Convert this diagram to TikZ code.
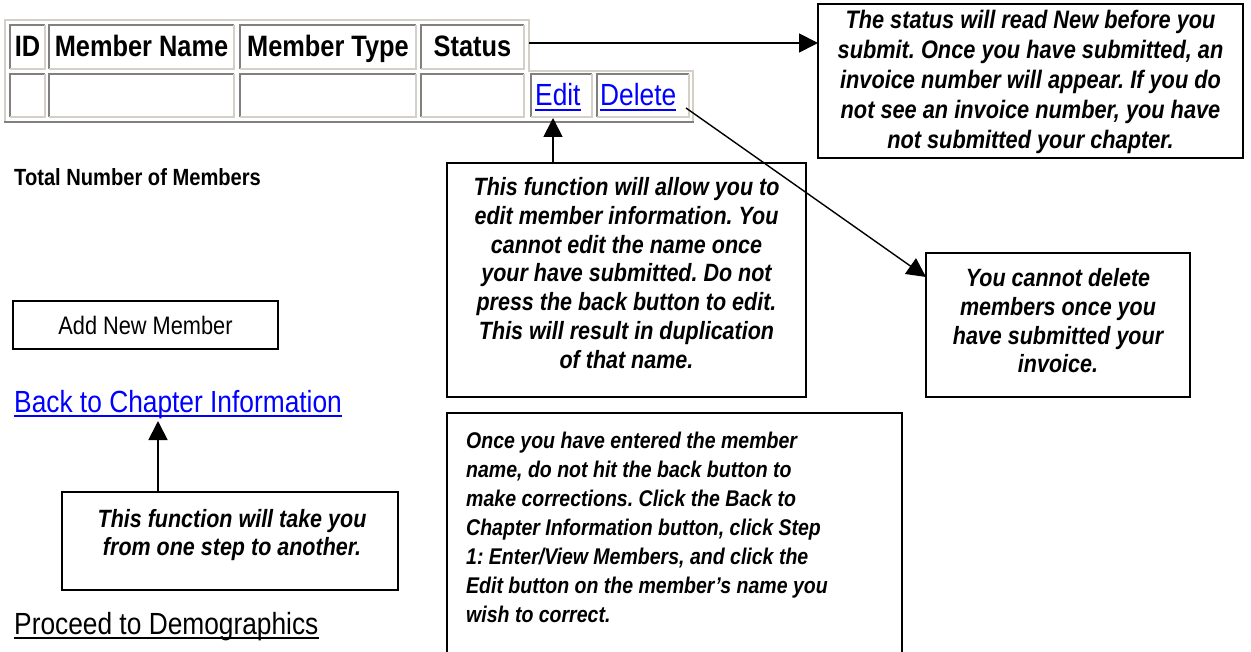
\documentclass[tikz,border=0pt]{standalone}
\usepackage{fontspec}
\setmainfont{Liberation Sans}[FakeStretch=0.86]
\usetikzlibrary{arrows.meta,fit}
\definecolor{linkblue}{HTML}{0000FF}
\definecolor{bevellight}{HTML}{D4D0C8}
\definecolor{beveldark}{HTML}{808080}
\newcommand\notefont{\bfseries\itshape\fontsize{25}{28.7}\selectfont}
\frenchspacing
\begin{document}
\begin{tikzpicture}[x=1pt,y=-1pt,
  cell/.style={inner sep=0pt, outer sep=0pt},
  note/.style={draw, line width=2pt, inner sep=0pt, outer sep=0pt},
  notetext/.style={font=\notefont, align=center, inner sep=0pt},
  pointer/.style={line width=1.8pt, -{Triangle[length=19pt,width=19pt]}},
  head/.style={font=\bfseries\fontsize{29.5}{33}\selectfont, inner sep=0pt, anchor=base},
  link/.style={font=\fontsize{30.6}{34}\selectfont, text=linkblue, inner sep=0pt, anchor=base west},
  uline/.style={line width=2pt},
]
\useasboundingbox (0,0) rectangle (1251,652);
\fill[white] (0,0) rectangle (1251,652);

% outer frame of the member table
\draw[bevellight, line width=2pt] (5,122) -- (5,20) -- (529,20) -- (529,71) -- (693,71) -- (693,122);
\draw[beveldark, line width=2pt] (4,122) -- (694,122);

% table cells with inset bevels
\foreach \n/\xa/\ya/\xb/\yb in {hid/10/25/45/69, hname/49/25/234/69, htype/240/25/416/69, hstat/421/25/524/69,
  rid/10/74/45/117, rname/49/74/234/117, rtype/240/74/416/117, rstat/421/74/524/117,
  redit/531/74/592/117, rdel/597/74/689/117}{
  \node[cell, fit={(\xa,\ya) (\xb,\yb)}] (\n) {};
  \draw[beveldark, line width=2pt] (\n.south west) -- (\n.north west) -- (\n.north east);
  \draw[bevellight, line width=2pt] (\n.north east) -- (\n.south east) -- (\n.south west);
}

% column headings
\node[head] (tid)   at (hid.center |- 0,57)   {ID};
\node[head] (tname) at (hname.center |- 0,57) {Member Name};
\node[head] (ttype) at (htype.center |- 0,57) {Member Type};
\node[head] (tstat) at (hstat.center |- 0,57) {Status};

% row links
\node[link] (editlnk) at (535,106) {Edit};
\node[link] (dellnk) at (600,106) {Delete};
\draw[linkblue, uline] ([yshift=-4pt]editlnk.base west) -- ([yshift=-4pt]editlnk.base east);
\draw[linkblue, uline] ([yshift=-4pt]dellnk.base west) -- ([yshift=-4pt]dellnk.base east);

% left column of the page
\node[font=\bfseries\fontsize{23.4}{27}\selectfont, anchor=base west, inner sep=0pt] (total) at (14,186) {Total Number of Members};
\node[note, minimum width=265pt, minimum height=48pt, font=\fontsize{25.3}{29}\selectfont] (addbtn) at (145.5,325) {Add New Member};
\node[link] (backlnk) at (14,412) {Back to Chapter Information};
\draw[linkblue, uline] ([yshift=-4pt]backlnk.base west) -- ([yshift=-4pt]backlnk.base east);
\node[link, text=black] (proceed) at (14,634) {Proceed to Demographics};
\draw[black, uline] ([yshift=-4pt]proceed.base west) -- ([yshift=-4pt]proceed.base east);

% callout boxes
\node[note, minimum width=425pt, minimum height=154pt] (statusbox) at (1030.5,81) {};
\node[notetext, font=\bfseries\itshape\fontsize{25.3}{30}\selectfont] (statustxt) at (1030.5,82)
  {The status will read New before you\\submit. Once you have submitted, an\\invoice number will appear. If you do\\not see an invoice number, you have\\not submitted your chapter.};

\node[note, minimum width=359pt, minimum height=234pt] (editbox) at (626.5,280) {};
\node[notetext] (edittxt) at (626.5,273)
  {This function will allow you to\\edit member information. You\\cannot edit the name once\\your have submitted. Do not\\press the back button to edit.\\This will result in duplication\\of that name.};

\node[note, minimum width=264pt, minimum height=144pt] (delbox) at (1058,325) {};
\node[notetext] (deltxt) at (1058,321)
  {You cannot delete\\members once you\\have submitted your\\invoice.};

\node[note, minimum width=336pt, minimum height=98pt] (backbox) at (230,541) {};
\node[notetext] (backtxt) at (232,535)
  {This function will take you\\from one step to another.};

\node[note, anchor=north west, minimum width=455pt, minimum height=300pt] (oncebox) at (447,413) {};
\node[notetext, align=left, font=\bfseries\itshape\fontsize{22.7}{29}\selectfont, anchor=west] (oncetxt) at (466,527)
  {Once you have entered the member\\name, do not hit the back button to\\make corrections. Click the Back to\\Chapter Information button, click Step\\1: Enter/View Members, and click the\\Edit button on the member’s name you\\wish to correct.};

% pointers
\coordinate (statfoot) at (529,43);
\draw[pointer] (statfoot) -- (statfoot -| statusbox.west);
\coordinate (editfoot) at (553,118);
\draw[pointer] (editbox.north -| editfoot) -- (editfoot);
\coordinate (delfoot) at (686,108);
\draw[pointer, line width=1.4pt] (delfoot) -- ([yshift=-24pt]delbox.north west);
\coordinate (backfoot) at (158,421);
\draw[pointer] (backbox.north -| backfoot) -- (backfoot);
\end{tikzpicture}
\end{document}
